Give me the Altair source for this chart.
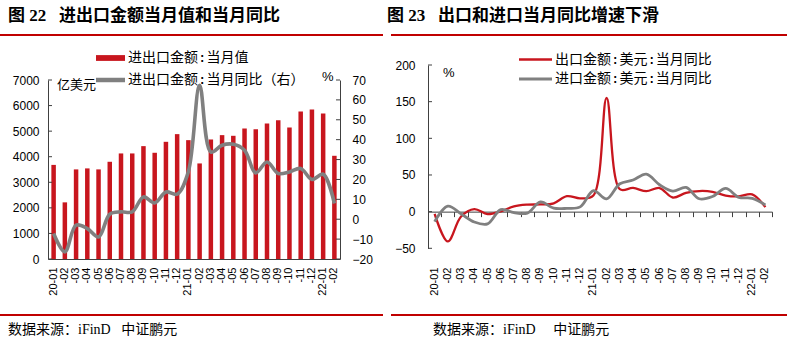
import altair as alt
import pandas as pd

# ---------------- data ----------------
months = ["20-01", "20-02", "20-03", "20-04", "20-05", "20-06", "20-07", "20-08",
          "20-09", "20-10", "20-11", "20-12", "21-01", "21-02", "21-03", "21-04",
          "21-05", "21-06", "21-07", "21-08", "21-09", "21-10", "21-11", "21-12",
          "22-01", "22-02"]

# 进出口金额:当月值 (亿美元)
trade_value = [3680, 2215, 3504, 3543, 3504, 3802, 4128, 4128, 4414, 4154, 4583, 4883,
               4648, 3737, 4674, 4844, 4818, 5104, 5078, 5300, 5430, 5143, 5768, 5846,
               5690, 4036]
# 进出口金额:当月同比 (%)
trade_yoy = [-7.2, -16.4, -3.0, -4.7, -8.9, 2.5, 3.7, 3.7, 11.2, 8.2, 13.7, 12.6,
             24.0, 67.3, 33.8, 37.2, 37.7, 34.7, 23.3, 28.8, 23.0, 23.8, 25.5, 20.0,
             22.6, 7.9]
# 出口金额:美元:当月同比 (%)
export_yoy = [-3.0, -40.6, -6.6, 3.5, -3.3, 0.5, 7.2, 9.5, 9.9, 11.4, 21.1, 18.1,
              22.0, 155.0, 30.6, 32.3, 27.9, 32.2, 19.3, 25.6, 28.1, 27.1, 22.0, 20.9,
              23.5, 6.2]
# 进口金额:美元:当月同比 (%)
import_yoy = [-13.6, 7.5, -3.0, -14.2, -16.7, 2.7, -1.4, -2.1, 13.2, 4.7, 4.5, 6.5,
              28.5, 17.3, 38.1, 43.1, 51.1, 36.7, 28.1, 33.1, 17.6, 20.6, 31.7, 19.5,
              18.2, 9.1]

value_ticks = [0, 1000, 2000, 3000, 4000, 5000, 6000, 7000]
trade_yoy_ticks = [-20, -10, 0, 10, 20, 30, 40, 50, 60, 70]
yoy_ticks = [-50, 0, 50, 100, 150, 200]

NB = "\u00a0"
title_left = "图" + NB + "22" + NB * 3 + "进出口金额当月值和当月同比"
title_right = "图" + NB + "23" + NB * 3 + "出口和进口当月同比增速下滑"
source_left = "数据来源：iFinD" + NB * 3 + "中证鹏元"
source_right = "数据来源：iFinD" + NB * 5 + "中证鹏元"
unit_left = "亿美元"
unit_pct = "%"
name_bar = "进出口金额:当月值"
name_line = "进出口金额:当月同比（右）"
name_exp = "出口金额:美元:当月同比"
name_imp = "进口金额:美元:当月同比"

# ---------------- style / layout ----------------
W, H = 787, 342
RED = "#C8161E"
RULE_RED = "#C00000"
GRAY = "#808080"
AX = "#404040"
NUM_FONT = "Liberation Sans"
CJK_FONT = "Noto Sans CJK SC"
MIX_FONT = "Liberation Serif, Noto Sans CJK SC"
LEG_FONT = "DejaVu Sans Mono, Noto Sans CJK SC"

LX0, LX1 = 48, 340          # left panel plot x extent
LY0, LY1 = 259, 80          # left panel plot y extent (bottom, top)
RX0, RX1 = 428, 772         # right panel plot x extent
RY0, RY1 = 248.3, 65        # right panel plot y extent
RZERO = RY0 - (0 - (-50)) / 250 * (RY0 - RY1)
LABEL_TOP = 267

label_expr = ("substring(datum.value, 3, 5) == '01' ? datum.value : "
              "'-' + substring(datum.value, 3, 5)")

df_left = pd.DataFrame({"month": months, "value": trade_value, "yoy": trade_yoy,
                        "s_bar": name_bar, "s_line": name_line})
df_exp = pd.DataFrame({"month": months, "v": export_yoy, "s": name_exp})
df_imp = pd.DataFrame({"month": months, "v": import_yoy, "s": name_imp})

x_left_scale = alt.Scale(type="band", domain=months, range=[LX0, LX1],
                         paddingInner=0, paddingOuter=0)
x_right_scale = alt.Scale(type="band", domain=months, range=[RX0, RX1],
                          paddingInner=0, paddingOuter=0)
y_val_scale = alt.Scale(domain=[0, 7000], range=[LY0, LY1], nice=False, zero=False)
y_tyoy_scale = alt.Scale(domain=[-20, 70], range=[LY0, LY1], nice=False, zero=False)
y_r_scale = alt.Scale(domain=[-50, 200], range=[RY0, RY1], nice=False, zero=False)

common_axis = dict(title=None, grid=False, labelFont=NUM_FONT, labelColor="black",
                   domainColor=AX, domainWidth=1, labelOverlap=False, labelFlush=False)

# ---------------- left panel ----------------
bars = alt.Chart(df_left).mark_bar(size=4.5).encode(
    x=alt.X("month:N", scale=x_left_scale, sort=months,
            axis=alt.Axis(orient="bottom", offset=LY0 - H, ticks=False,
                          labelAngle=270, labelAlign="right", labelBaseline="middle",
                          labelPadding=LABEL_TOP - LY0, labelExpr=label_expr,
                          labelFontSize=11, **common_axis)),
    y=alt.Y("value:Q", scale=y_val_scale,
            axis=alt.Axis(orient="left", offset=-LX0, values=value_ticks, ticks=False,
                          labelPadding=9, format="d", labelFontSize=12, **common_axis)),
    color=alt.Color("s_bar:N", scale=alt.Scale(domain=[name_bar], range=[RED]),
                    legend=alt.Legend(orient="none", legendX=96, legendY=43.5, title=None,
                                      symbolType="M-1,-0.2H1V0.2H-1Z", symbolSize=841,
                                      symbolStrokeWidth=0, labelFont=LEG_FONT,
                                      labelFontSize=14, labelColor="black",
                                      labelOffset=3, padding=0, labelLimit=0)),
)

line_left = alt.Chart(df_left).mark_line(interpolate="catmull-rom", strokeWidth=3.6).encode(
    x=alt.X("month:N", scale=x_left_scale, sort=months, axis=None),
    y=alt.Y("yoy:Q", scale=y_tyoy_scale,
            axis=alt.Axis(orient="right", offset=LX1 - W, values=trade_yoy_ticks,
                          ticks=False, labelPadding=12, labelFontSize=12, **common_axis)),
    color=alt.Color("s_line:N", scale=alt.Scale(domain=[name_line], range=[GRAY]),
                    legend=alt.Legend(orient="none", legendX=93.5, legendY=63, title=None,
                                      symbolType="stroke", symbolSize=841,
                                      symbolStrokeWidth=4.5, labelFont=LEG_FONT,
                                      labelFontSize=14, labelColor="black",
                                      labelOffset=0.5, padding=0, labelLimit=0)),
)

ticks_l1 = alt.Chart(pd.DataFrame({"v": value_ticks})).mark_rule(color=AX).encode(
    y=alt.Y("v:Q", scale=y_val_scale, axis=None), x=alt.value(LX0), x2=alt.value(LX0 + 4))
ticks_l2 = alt.Chart(pd.DataFrame({"v": trade_yoy_ticks})).mark_rule(color=AX).encode(
    y=alt.Y("v:Q", scale=y_tyoy_scale, axis=None), x=alt.value(LX1 - 4), x2=alt.value(LX1))

# ---------------- right panel ----------------
# export line carries the month labels (bottom) and the left value axis
line_exp = alt.Chart(df_exp).mark_line(interpolate="catmull-rom", strokeWidth=2.3).encode(
    x=alt.X("month:N", scale=x_right_scale, sort=months,
            axis=alt.Axis(orient="bottom", offset=RZERO - H, ticks=False, domain=False,
                          labelAngle=270, labelAlign="right", labelBaseline="middle",
                          labelPadding=LABEL_TOP - RZERO, labelExpr=label_expr,
                          labelFontSize=11, **common_axis)),
    y=alt.Y("v:Q", scale=y_r_scale,
            axis=alt.Axis(orient="left", offset=-RX0, values=yoy_ticks, ticks=False,
                          labelPadding=13, labelFontSize=12, **common_axis)),
    color=alt.Color("s:N", scale=alt.Scale(domain=[name_exp], range=[RED]),
                    legend=alt.Legend(orient="none", legendX=517.5, legendY=41.5, title=None,
                                      symbolType="stroke", symbolSize=1089,
                                      symbolStrokeWidth=2.5, labelFont=LEG_FONT,
                                      labelFontSize=14, labelColor="black",
                                      labelOffset=1.5, padding=0, labelLimit=0)),
)

# import line carries the zero line with its boundary ticks
line_imp = alt.Chart(df_imp).mark_line(interpolate="catmull-rom", strokeWidth=2.8).encode(
    x=alt.X("month:N", scale=x_right_scale, sort=months,
            axis=alt.Axis(orient="bottom", offset=RZERO - H, ticks=True, tickSize=5,
                          tickColor=AX, tickBand="extent", labels=False,
                          **common_axis)),
    y=alt.Y("v:Q", scale=y_r_scale, axis=None),
    color=alt.Color("s:N", scale=alt.Scale(domain=[name_imp], range=[GRAY]),
                    legend=alt.Legend(orient="none", legendX=517.5, legendY=61, title=None,
                                      symbolType="stroke", symbolSize=1089,
                                      symbolStrokeWidth=2.8, labelFont=LEG_FONT,
                                      labelFontSize=14, labelColor="black",
                                      labelOffset=1.5, padding=0, labelLimit=0)),
)

ticks_r = alt.Chart(pd.DataFrame({"v": yoy_ticks})).mark_rule(color=AX).encode(
    y=alt.Y("v:Q", scale=y_r_scale, axis=None), x=alt.value(RX0), x2=alt.value(RX0 + 4))


# ---------------- decorations ----------------
def text_layer(s, x, y, size, font, weight="normal", align="left"):
    return alt.Chart(pd.DataFrame({"t": [s]})).mark_text(
        align=align, baseline="middle", fontSize=size, font=font,
        fontWeight=weight, color="black").encode(
        text="t:N", x=alt.value(x), y=alt.value(y))


def hrule(x0, x1, y, width=2):
    return alt.Chart(pd.DataFrame({"a": [0]})).mark_rule(
        color=RULE_RED, strokeWidth=width).encode(
        x=alt.value(x0), x2=alt.value(x1), y=alt.value(y))


decor = [
    text_layer(title_left, 8, 16, 17, MIX_FONT, "bold"),
    text_layer(title_right, 387, 16, 17, MIX_FONT, "bold"),
    hrule(0, 383, 35), hrule(391, 787, 35),
    hrule(0, 383, 315), hrule(391, 787, 315),
    text_layer(source_left, 8, 330, 14, MIX_FONT),
    text_layer(source_right, 433, 330, 14, MIX_FONT),
    text_layer(unit_left, 57, 85, 13, CJK_FONT),
    text_layer(unit_pct, 322, 77, 13, NUM_FONT),
    text_layer(unit_pct, 443, 73, 13, NUM_FONT),
]

chart = alt.layer(
    bars, line_left, ticks_l1, ticks_l2, line_exp, line_imp, ticks_r, *decor
).resolve_scale(
    x="independent", y="independent", color="independent"
).resolve_axis(
    x="independent", y="independent"
).resolve_legend(
    color="independent"
).properties(
    width=W, height=H, padding=0, background="white",
    autosize=alt.AutoSizeParams(type="none"),
).configure_view(stroke=None)

chart.save("out.html", embed_options={"renderer": "svg", "actions": False})
